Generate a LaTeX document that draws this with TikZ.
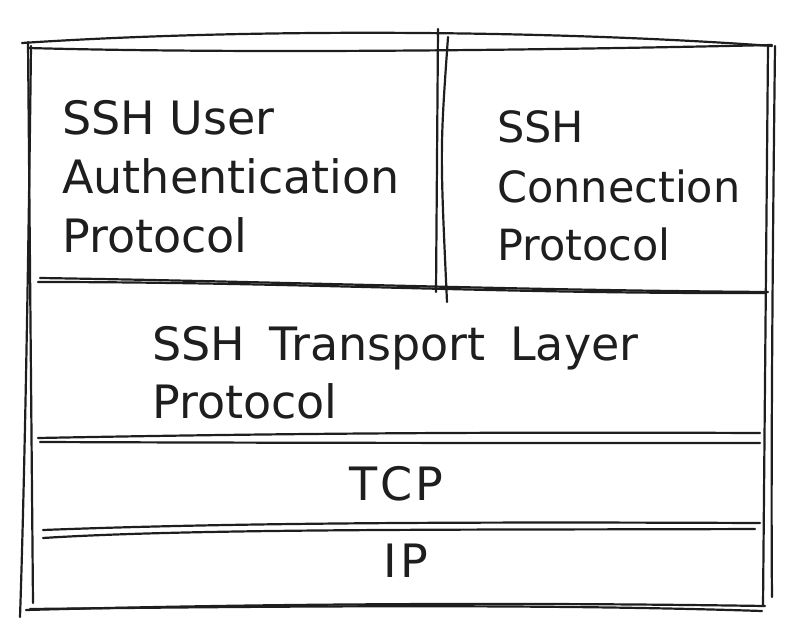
\documentclass[tikz,border=0pt]{standalone}
\usepackage{fontspec}
\setmainfont{DejaVu Sans}
\definecolor{ink}{HTML}{1E1E1E}
\begin{document}
\begin{tikzpicture}[x=1pt,y=-1pt,
  sk/.style={line width=2.2pt, draw=ink, line cap=round, line join=round},
  lbl/.style={inner sep=0pt, font=\fontsize{46}{58}\selectfont, text=ink, anchor=base west},
  rlbl/.style={lbl, font=\fontsize{43}{58}\selectfont}]
\useasboundingbox (0,0) rectangle (797,636);
% outer top
\draw[sk] (22,43) .. controls (250,28) and (550,30) .. (772,46);
\draw[sk] (28,48) .. controls (250,54) and (550,50) .. (772,45);
% outer left
\draw[sk] (28,42) -- (33,603);
\draw[sk] (31,46) .. controls (28,300) and (24,500) .. (20,617);
% outer right
\draw[sk] (768,46) -- (763,606);
\draw[sk] (775,46) .. controls (772,300) and (771,500) .. (772,597);
% outer bottom
\draw[sk] (26,610) .. controls (250,604) and (500,602) .. (765,606);
\draw[sk] (30,609) .. controls (300,606) and (550,604) .. (762,611);
% divider
\draw[sk] (438,29) -- (436,292);
\draw[sk] (448,37) .. controls (440,150) .. (447,302);
% horizontal 1
\draw[sk] (40,278) .. controls (300,282) and (500,290) .. (768,292);
\draw[sk] (38,282) .. controls (300,282) and (500,294) .. (766,293);
% horizontal 2
\draw[sk] (38,438) .. controls (300,433) and (500,432) .. (760,433);
\draw[sk] (40,442) .. controls (300,443) and (500,443) .. (760,443);
% horizontal 3
\draw[sk] (43,530) .. controls (250,522) and (500,522) .. (760,523);
\draw[sk] (43,538) .. controls (200,528) and (500,530) .. (755,529);
% labels
\node[lbl] (ua1) at (62,135) {SSH User};
\node[lbl] (ua2) at (62,194) {Authentication};
\node[lbl] (ua3) at (62,252) {Protocol};
\node[rlbl] (cp1) at (497,143) {SSH};
\node[rlbl] (cp2) at (497,203) {Connection};
\node[rlbl] (cp3) at (497,260) {Protocol};
\node[lbl] (tl1) at (152,360) {SSH\hspace{10pt} Transport\hspace{10pt} Layer};
\node[lbl] (tl2) at (152,418) {Protocol};
\node[lbl, anchor=base] (tcp) at (396,500) {T\kern3pt C\kern3pt P};
\node[lbl, anchor=base] (ip) at (406,577) {I\kern4pt P};
\end{tikzpicture}
\end{document}
